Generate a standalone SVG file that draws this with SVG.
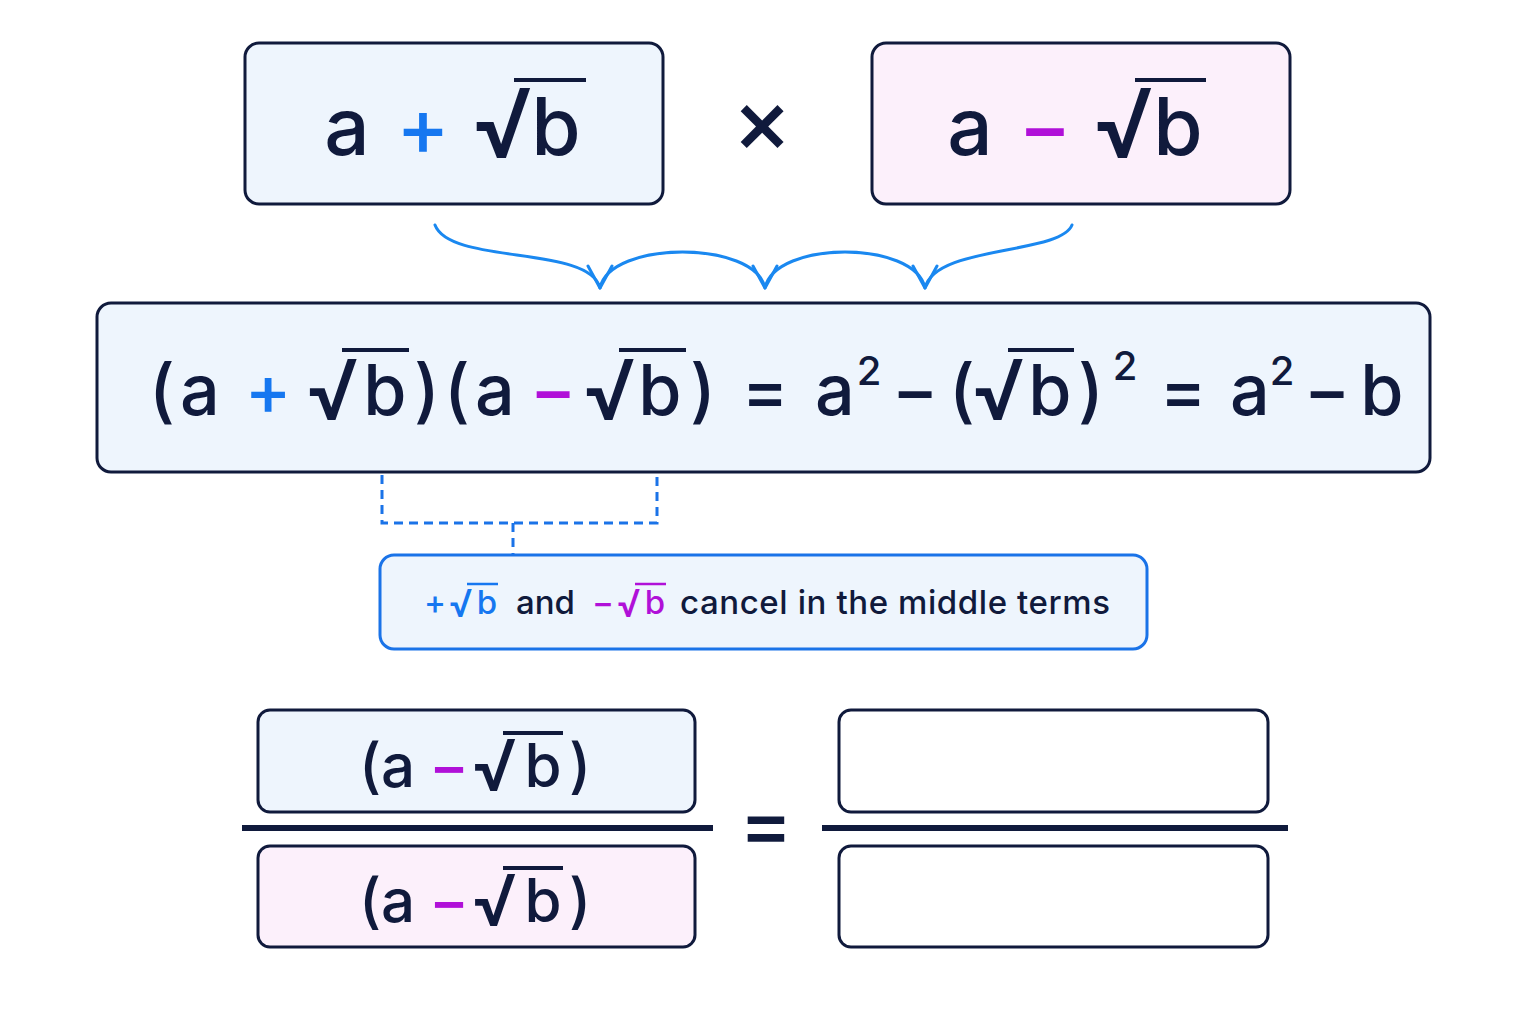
<svg xmlns="http://www.w3.org/2000/svg" width="1536" height="1024" viewBox="0 0 1536 1024">
<style>
.t{font-family:Inter,"Liberation Sans",sans-serif;fill:#101a3c;text-anchor:middle;font-weight:500}
.bl{fill:#1677f0}.pu{fill:#b010d8}
.ol{stroke:#101a3c;stroke-width:4}
.box{stroke:#101a3c;stroke-width:3}
.con{fill:none;stroke:#1a88f0;stroke-width:3;stroke-linecap:round;stroke-linejoin:round}
</style>
<rect width="1536" height="1024" fill="#fff"/>
<g id="left">
<rect class="box" x="245" y="43" width="418" height="161" rx="14" fill="#eef5fd"/>
<g class="t" font-size="80"><text x="347" y="155">a</text><text x="423" y="155" class="bl">+</text><text x="503" y="158" font-size="96">√</text><text x="556" y="155">b</text></g>
<line class="ol" x1="514" y1="80" x2="586" y2="80"/>
</g>
<text id="times" class="t" x="762" y="152" font-size="90" font-weight="300">×</text>
<g id="right">
<rect class="box" x="872" y="43" width="418" height="161" rx="14" fill="#fcf0fb"/>
<g class="t" font-size="80"><text x="970" y="155">a</text><text x="1045" y="155" class="pu">−</text><text x="1124" y="158" font-size="96">√</text><text x="1178" y="155">b</text></g>
<line class="ol" x1="1135" y1="80" x2="1206" y2="80"/>
</g>
<g id="connectors">
<path class="con" d="M435 225 C450 265 590 245 600 288 M600 288 C610 240 755 240 765 288 C775 240 915 240 925 288 M925 288 C935 245 1060 255 1072 225"/>
<path class="con" d="M588 266 L600 288 L612 266 M753 266 L765 288 L777 266 M913 266 L925 288 L937 266"/>
<path fill="none" stroke="#1a73e8" stroke-width="3" stroke-dasharray="9 6" d="M382 430 V523 H657 V430 M513 523 V555"/>
</g>
<g id="main">
<rect class="box" x="97" y="303" width="1333" height="169" rx="14" fill="#eef5fd"/>
<g class="t" font-size="70">
<text x="162" y="415">(</text><text x="200" y="415">a</text><text x="268" y="415" class="bl">+</text><text x="333" y="420" font-size="84">√</text><text x="385" y="415">b</text><text x="427" y="415">)</text>
<text x="457" y="415">(</text><text x="495" y="415">a</text><text x="553" y="415" class="pu">−</text><text x="610" y="420" font-size="84">√</text><text x="660" y="415">b</text><text x="703" y="415">)</text>
<text x="765" y="415">=</text><text x="835" y="415">a</text><text x="869" y="385" font-size="40">2</text><text x="915" y="415">−</text>
<text x="962" y="415">(</text><text x="999" y="420" font-size="84">√</text><text x="1050" y="415">b</text><text x="1091" y="415">)</text><text x="1125" y="380" font-size="40">2</text>
<text x="1183" y="415">=</text><text x="1250" y="415">a</text><text x="1282" y="385" font-size="40">2</text><text x="1327" y="415">−</text><text x="1382" y="415">b</text>
</g>
<line class="ol" x1="342" y1="350" x2="409" y2="350"/>
<line class="ol" x1="619" y1="350" x2="686" y2="350"/>
<line class="ol" x1="1008" y1="350" x2="1074" y2="350"/>
</g>
<g id="note">
<rect x="380" y="555" width="767" height="94" rx="14" fill="#eef5fd" stroke="#1a73e8" stroke-width="3"/>
<g class="t" font-size="33"><text x="435" y="614" class="bl">+</text><text x="461" y="617" class="bl" font-size="38">√</text><text x="487" y="614" class="bl">b</text>
<text x="516" y="614" text-anchor="start">and</text>
<text x="603" y="614" class="pu">−</text><text x="629" y="617" class="pu" font-size="38">√</text><text x="655" y="614" class="pu">b</text>
<text x="680" y="614" text-anchor="start" textLength="430">cancel in the middle terms</text></g>
<line x1="467" y1="584" x2="498" y2="584" stroke="#1677f0" stroke-width="2.5"/>
<line x1="635" y1="584" x2="666" y2="584" stroke="#b010d8" stroke-width="2.5"/>
</g>
<g id="fraction">
<rect class="box" x="258" y="710" width="437" height="102" rx="12" fill="#eef5fd"/>
<rect class="box" x="258" y="846" width="437" height="101" rx="12" fill="#fcf0fb"/>
<g class="t" font-size="60">
<text x="370" y="787">(</text><text x="398" y="787">a</text><text x="449" y="787" class="pu">−</text><text x="495" y="791" font-size="72">√</text><text x="543" y="787">b</text><text x="580" y="787">)</text>
<text x="370" y="922">(</text><text x="398" y="922">a</text><text x="449" y="922" class="pu">−</text><text x="495" y="926" font-size="72">√</text><text x="543" y="922">b</text><text x="580" y="922">)</text>
</g>
<line class="ol" x1="503" y1="733" x2="563" y2="733"/>
<line class="ol" x1="503" y1="868" x2="563" y2="868"/>
<line x1="242" y1="828" x2="713" y2="828" stroke="#101a3c" stroke-width="6"/>
</g>
<text id="eq" class="t" x="766" y="852" font-size="80">=</text>
<g id="answer">
<rect class="box" x="839" y="710" width="429" height="102" rx="12" fill="#fff"/>
<rect class="box" x="839" y="846" width="429" height="101" rx="12" fill="#fff"/>
<line x1="822" y1="828" x2="1288" y2="828" stroke="#101a3c" stroke-width="6"/>
</g>
</svg>
